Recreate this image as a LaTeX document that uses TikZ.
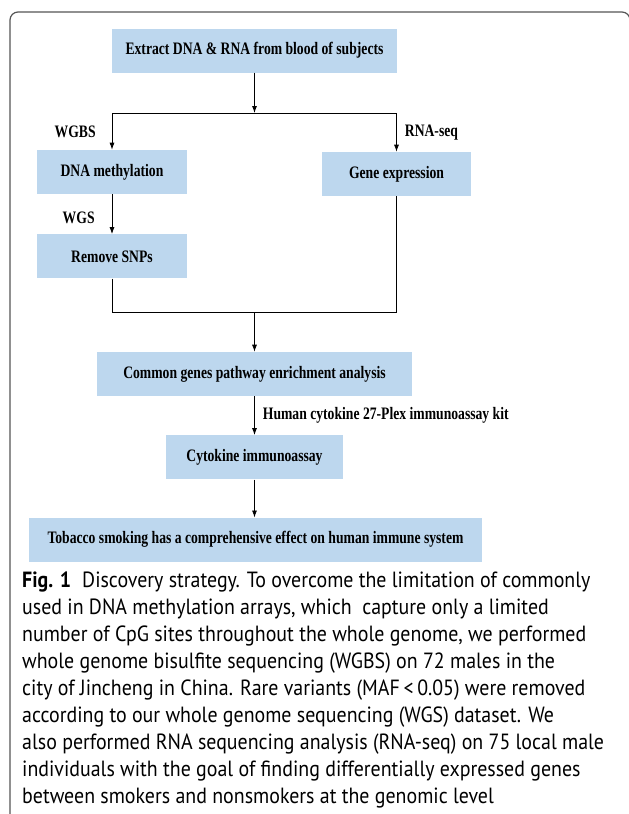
\documentclass[tikz,border=0pt]{standalone}
\usepackage{fontspec}
\setmainfont{Liberation Serif}
\newfontfamily\stagefont[FakeStretch=0.78]{Liberation Serif}
\newfontfamily\capfont[FakeStretch=0.905]{PT Sans}
\usetikzlibrary{positioning,arrows.meta}

\definecolor{stageblue}{HTML}{BDD7EE}
\definecolor{framegray}{HTML}{555555}

\tikzset{
  stage/.style={fill=stageblue, minimum height=44pt, inner sep=0pt,
    font=\stagefont\bfseries\fontsize{17.5}{20}\selectfont},
  tag/.style={inner sep=0pt, font=\stagefont\bfseries\fontsize{17.5}{20}\selectfont},
  flow/.style={-{Latex[length=7pt,width=5pt]}, line width=0.8pt},
  link/.style={line width=0.8pt},
}

\begin{document}
\begin{tikzpicture}[x=1pt, y=-1pt]
  \useasboundingbox (0,0) rectangle (629,814);
  \draw[framegray, line width=1.2pt, rounded corners=8pt] (10,12) rectangle (630,822);

  \node[stage, minimum width=285pt] (extract) at (254.5,50.5) {Extract DNA \& RNA from blood of subjects}; %
  \node[stage, minimum width=150pt, below=77pt of extract, xshift=-142.5pt] (meth) {DNA methylation}; %
  \node[stage, minimum width=149pt, below=79pt of extract, xshift=142pt] (gene) {Gene expression}; %
  \node[stage, minimum width=150pt, below=40pt of meth] (snps) {Remove SNPs}; %
  \node[stage, minimum width=315pt, below=279pt of extract] (common) {Common genes pathway enrichment analysis}; %
  \node[stage, minimum width=177pt, below=39pt of common] (cyto) {Cytokine immunoassay}; %
  \node[stage, minimum width=453pt, below=38pt of cyto, xshift=1pt] (tobacco) {Tobacco smoking has a comprehensive effect on human immune system}; %

  \coordinate (split) at (254.5,113);
  \coordinate (merge) at (254.5,312);

  \draw[flow] (extract) -- (split);
  \draw[flow] (split) -| node[tag, pos=0.75, left=16pt] {WGBS} (meth.north);
  \draw[flow] (split) -| node[tag, pos=0.75, right=8pt] {RNA-seq} (gene.north);
  \draw[flow] (meth) -- node[tag, pos=0.6, left=17pt] {WGS} (snps);
  \draw[link] (snps.south) |- (merge);
  \draw[link] (gene.south) |- (merge);
  \draw[flow] (merge) -- (common);
  \draw[flow] (common) -- node[tag, right=8pt] {Human cytokine 27-Plex immunoassay kit} (cyto);
  \draw[flow] (cyto.south) -- (cyto.south |- tobacco.north);

  \node[anchor=base west, inner sep=0pt, align=left,
    font=\capfont\fontsize{22}{26.9}\selectfont] (caption) at (22,803)
  {{\bfseries Fig. 1}\enspace Discovery strategy. To overcome the limitation of commonly\\
   used in DNA methylation arrays, which\ \ capture only a limited\\
   number of CpG sites throughout the whole genome, we performed\\
   whole genome bisulfite sequencing (WGBS) on 72 males in the\\
   city of Jincheng in China. Rare variants (MAF\,<\,0.05) were removed\\
   according to our whole genome sequencing (WGS) dataset. We\\
   also performed RNA sequencing analysis (RNA-seq) on 75 local male\\
   individuals with the goal of finding differentially expressed genes\\
   between smokers and nonsmokers at the genomic level};
\end{tikzpicture}
\end{document}
